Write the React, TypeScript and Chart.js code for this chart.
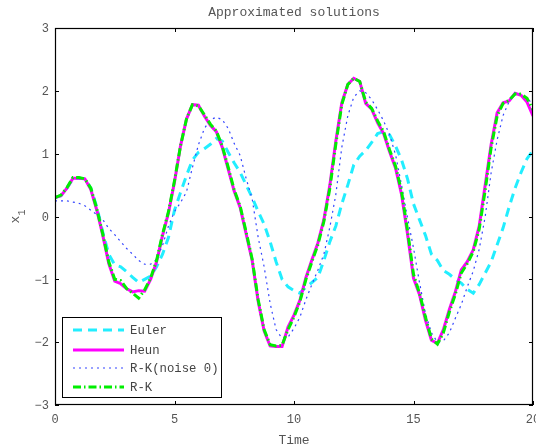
import React, { useEffect, useRef } from 'react';
import { Chart, registerables } from 'chart.js';
Chart.register(...registerables);

const titleText = 'Approximated solutions';
const xLabel = 'Time';
const yLabelMain = 'x';
const yLabelSub = '1';

const xTicks = [0, 5, 10, 15, 20];
const xTickLabels = ['0', '5', '10', '15', '20'];
const yTicks = [-3, -2, -1, 0, 1, 2, 3];
const yTickLabels = ['\u22123', '\u22122', '\u22121', '0', '1', '2', '3'];

const seriesNames = ['Euler', 'Heun', 'R-K(noise 0)', 'R-K'];

const time = [
  0, 0.25, 0.5, 0.75, 1, 1.25, 1.5, 1.75, 2, 2.25, 2.5, 2.75, 3, 3.25, 3.5, 3.75,
  4, 4.25, 4.5, 4.75, 5, 5.25, 5.5, 5.75, 6, 6.25, 6.5, 6.75, 7, 7.25, 7.5, 7.75,
  8, 8.25, 8.5, 8.75, 9, 9.25, 9.5, 9.75, 10, 10.25, 10.5, 10.75, 11, 11.25, 11.5, 11.75,
  12, 12.25, 12.5, 12.75, 13, 13.25, 13.5, 13.75, 14, 14.25, 14.5, 14.75, 15, 15.25, 15.5, 15.75,
  16, 16.25, 16.5, 16.75, 17, 17.25, 17.5, 17.75, 18, 18.25, 18.5, 18.75, 19, 19.25, 19.5, 19.75, 20,
];

const euler = [
  0.3, 0.33, 0.45, 0.6, 0.61, 0.6, 0.45, 0.15, -0.25, -0.6, -0.77, -0.8, -0.88, -0.97, -1.05, -1.0,
  -0.95, -0.8, -0.6, -0.33, 0.1, 0.38, 0.65, 0.9, 1.02, 1.08, 1.15, 1.24, 1.2, 1.02, 0.85, 0.7,
  0.5, 0.3, 0.08, -0.12, -0.4, -0.72, -1.0, -1.12, -1.18, -1.22, -1.12, -1.05, -0.97, -0.7, -0.4, -0.15,
  0.2, 0.5, 0.82, 0.96, 1.05, 1.18, 1.32, 1.35, 1.3, 1.12, 0.9, 0.6, 0.2, -0.05, -0.3, -0.6,
  -0.7, -0.86, -0.92, -1.0, -1.06, -1.16, -1.22, -1.08, -0.9, -0.72, -0.45, -0.18, 0.15, 0.45, 0.7, 0.92, 1.05,
];

const heun = [
  0.3, 0.33, 0.45, 0.61, 0.61, 0.6, 0.43, 0.1, -0.3, -0.75, -1.03, -1.07, -1.15, -1.2, -1.18, -1.19,
  -1.0, -0.72, -0.3, 0.06, 0.55, 1.12, 1.55, 1.78, 1.77, 1.6, 1.45, 1.35, 1.1, 0.75, 0.4, 0.14,
  -0.28, -0.7, -1.35, -1.82, -2.06, -2.07, -2.07, -1.76, -1.57, -1.33, -0.97, -0.69, -0.42, -0.05, 0.5, 1.2,
  1.81, 2.1, 2.2, 2.15, 1.8, 1.71, 1.49, 1.32, 1.03, 0.77, 0.35, -0.28, -0.98, -1.24, -1.65, -1.97,
  -2.02, -1.8, -1.48, -1.2, -0.85, -0.72, -0.53, -0.15, 0.5, 1.15, 1.65, 1.81, 1.84, 1.96, 1.93, 1.82, 1.6,
];

const rkNoise0 = [
  0.25, 0.25, 0.25, 0.23, 0.21, 0.17, 0.1, 0.03, -0.05, -0.19, -0.29, -0.4, -0.51, -0.6, -0.7, -0.76,
  -0.76, -0.68, -0.46, -0.15, 0.08, 0.22, 0.39, 0.78, 1.14, 1.4, 1.54, 1.58, 1.54, 1.4, 1.16, 0.97,
  0.6, 0.28, -0.33, -0.8, -1.38, -1.8, -1.94, -1.92, -1.78, -1.6, -1.32, -1.08, -0.85, -0.6, -0.17, 0.35,
  1.1, 1.6, 1.9, 2.0, 1.97, 1.86, 1.7, 1.52, 1.3, 0.98, 0.5, -0.02, -0.5, -1.05, -1.54, -1.85,
  -2.0, -1.98, -1.85, -1.62, -1.4, -1.12, -0.87, -0.52, 0.0, 0.7, 1.22, 1.61, 1.83, 1.97, 1.95, 1.87, 1.8,
];

const rk = [
  0.3, 0.34, 0.46, 0.62, 0.62, 0.6, 0.45, 0.12, -0.28, -0.72, -1.0, -1.02, -1.15, -1.22, -1.3, -1.17,
  -0.98, -0.7, -0.28, 0.08, 0.57, 1.12, 1.55, 1.78, 1.76, 1.62, 1.47, 1.36, 1.12, 0.78, 0.42, 0.16,
  -0.25, -0.68, -1.32, -1.8, -2.04, -2.06, -2.05, -1.8, -1.6, -1.35, -1.0, -0.72, -0.45, -0.08, 0.45, 1.15,
  1.78, 2.1, 2.2, 2.15, 1.82, 1.72, 1.52, 1.35, 1.06, 0.8, 0.4, -0.22, -0.92, -1.22, -1.6, -1.95,
  -2.03, -1.85, -1.52, -1.24, -0.9, -0.75, -0.56, -0.2, 0.42, 1.1, 1.6, 1.8, 1.85, 1.95, 1.95, 1.88, 1.7,
];

const FONT = '"Liberation Mono", "DejaVu Sans Mono", monospace';

const styles = [
  { color: '#22eeff', width: 3, dash: [9, 6] },
  { color: '#ff00ff', width: 3, dash: [] as number[] },
  { color: '#3344ff', width: 1.2, dash: [2, 4] },
  { color: '#00ee00', width: 3, dash: [8, 3, 1.5, 3] },
];

const decorPlugin = {
  id: 'decor',
  afterDraw(chart: any) {
    const ctx = chart.ctx as CanvasRenderingContext2D;
    const { left, right, top, bottom } = chart.chartArea;
    const xs = chart.scales.x;
    const ys = chart.scales.y;
    ctx.save();
    ctx.strokeStyle = '#000';
    ctx.lineWidth = 1.2;
    ctx.setLineDash([]);
    ctx.strokeRect(left + 0.5, top + 0.5, right - left - 1, bottom - top - 1);
    ctx.lineWidth = 1;
    const tl = 4;
    ctx.beginPath();
    xTicks.forEach((v) => {
      const px = Math.round(xs.getPixelForValue(v)) + 0.5;
      ctx.moveTo(px, bottom);
      ctx.lineTo(px, bottom - tl);
      ctx.moveTo(px, top);
      ctx.lineTo(px, top + tl);
    });
    yTicks.forEach((v) => {
      const py = Math.round(ys.getPixelForValue(v)) + 0.5;
      ctx.moveTo(left, py);
      ctx.lineTo(left + tl, py);
      ctx.moveTo(right, py);
      ctx.lineTo(right - tl, py);
    });
    ctx.stroke();
    ctx.fillStyle = '#555';
    ctx.font = `12px ${FONT}`;
    ctx.textAlign = 'center';
    ctx.textBaseline = 'middle';
    xTicks.forEach((v, i) => {
      ctx.fillText(xTickLabels[i], xs.getPixelForValue(v), bottom + 15);
    });
    ctx.textAlign = 'right';
    yTicks.forEach((v, i) => {
      ctx.fillText(yTickLabels[i], left - 6, ys.getPixelForValue(v) + 1);
    });
    ctx.font = `13px ${FONT}`;
    ctx.textAlign = 'center';
    ctx.fillText(titleText, (left + right) / 2, 13);
    ctx.fillText(xLabel, (left + right) / 2, 441);
    ctx.save();
    ctx.translate(16, (top + bottom) / 2 + 7);
    ctx.rotate(-Math.PI / 2);
    ctx.textAlign = 'left';
    ctx.font = `13px ${FONT}`;
    ctx.fillText(yLabelMain, 0, 0);
    ctx.font = `10px ${FONT}`;
    ctx.fillText(yLabelSub, 8, 6);
    ctx.restore();
    const lx = 62, ly = 317, lw = 159, lh = 80;
    ctx.fillStyle = '#fff';
    ctx.fillRect(lx, ly, lw, lh);
    ctx.strokeStyle = '#000';
    ctx.lineWidth = 1;
    ctx.strokeRect(lx + 0.5, ly + 0.5, lw, lh);
    const rows = [330, 350, 368, 387];
    ctx.font = `12.3px ${FONT}`;
    ctx.textAlign = 'left';
    seriesNames.forEach((name, i) => {
      const st = styles[i];
      ctx.strokeStyle = st.color;
      ctx.lineWidth = st.width;
      ctx.setLineDash(st.dash);
      ctx.beginPath();
      ctx.moveTo(73, rows[i]);
      ctx.lineTo(124, rows[i]);
      ctx.stroke();
      ctx.setLineDash([]);
      ctx.fillStyle = '#444';
      ctx.fillText(name, 130, rows[i] + 1);
    });
    ctx.restore();
  },
};

export default function App() {
  const ref = useRef<HTMLCanvasElement | null>(null);
  useEffect(() => {
    if (!ref.current) return;
    const mk = (arr: number[]) => time.map((t, i) => ({ x: t, y: arr[i] }));
    const all = [euler, heun, rkNoise0, rk];
    const orders = [3, 2, 1, 0];
    const chart = new Chart(ref.current, {
      type: 'line',
      data: {
        datasets: all.map((arr, i) => ({
          label: seriesNames[i],
          data: mk(arr),
          borderColor: styles[i].color,
          borderWidth: styles[i].width,
          borderDash: styles[i].dash,
          pointRadius: 0,
          tension: 0,
          fill: false,
          order: orders[i],
        })),
      },
      options: {
        responsive: false,
        animation: false,
        layout: { padding: { top: 28, right: 3, left: 0, bottom: 0 } },
        plugins: { legend: { display: false }, title: { display: false }, tooltip: { enabled: false } },
        scales: {
          x: {
            type: 'linear',
            min: 0,
            max: 20,
            ticks: { display: false },
            grid: { display: false },
            border: { display: false },
            afterFit: (s: any) => { s.height = 43; },
          },
          y: {
            type: 'linear',
            min: -3,
            max: 3,
            ticks: { display: false },
            grid: { display: false },
            border: { display: false },
            afterFit: (s: any) => { s.width = 55; },
          },
        },
      },
      plugins: [decorPlugin],
    } as any);
    return () => chart.destroy();
  }, []);
  return (
    <div style={{ position: 'absolute', left: 0, top: 0, width: 536, height: 448, background: '#fff' }}>
      <canvas ref={ref} width={536} height={448} />
    </div>
  );
}
